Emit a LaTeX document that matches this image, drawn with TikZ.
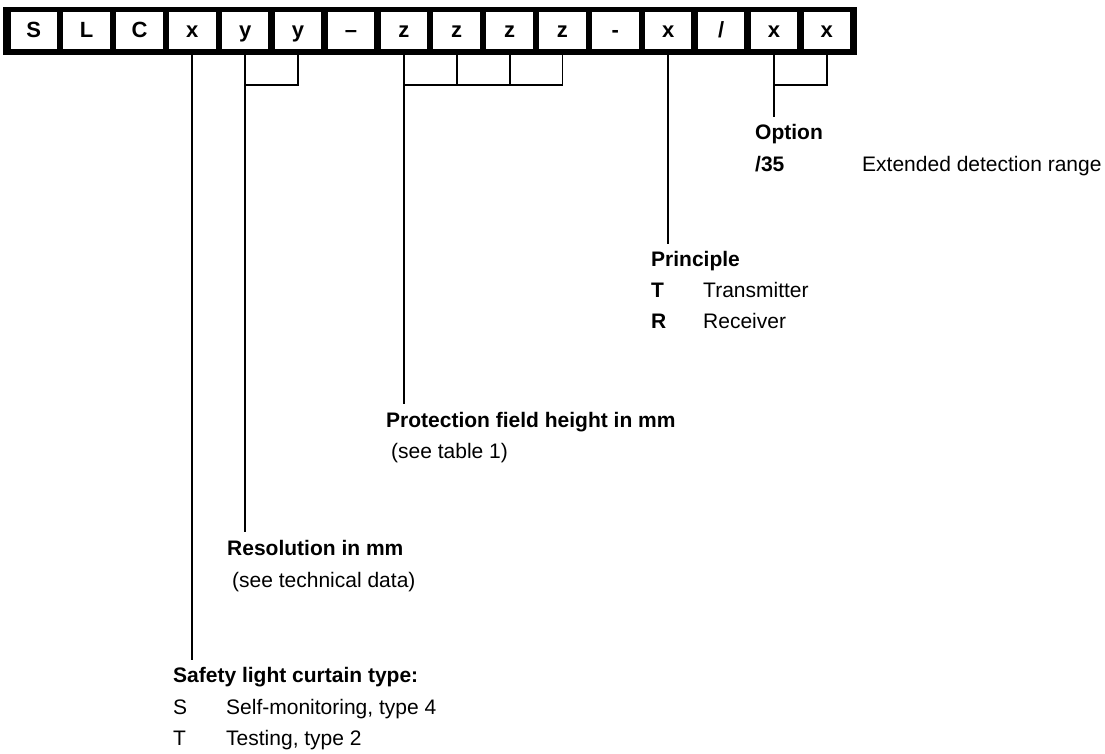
\documentclass[tikz,border=0pt]{standalone}
\usepackage{fontspec}
\setmainfont{Liberation Sans}
\begin{document}
\begin{tikzpicture}[x=1pt,y=-1pt,
  every node/.style={font=\fontsize{21}{25}\selectfont},
  cell/.style={fill=white,minimum width=46.5pt,minimum height=37pt,inner sep=0pt,
    text height=15pt,text depth=1.5pt,font=\fontsize{22}{25}\selectfont\bfseries},
  lbl/.style={anchor=base west,inner sep=0pt},
  blbl/.style={lbl,font=\fontsize{21}{25}\selectfont\bfseries},
  conn/.style={line width=1.9pt}]
\useasboundingbox (0,0) rectangle (1105,753);
\node[fill=black,minimum width=854pt,minimum height=48pt,inner sep=0pt,anchor=north west] (bar) at (3,7) {};
\foreach \t [count=\i from 0] in {S,L,C,x,y,y,–,z,z,z,z,-,x,/,x,x}{
  \node[cell] (c\i) at ({33.75+52.87*\i},30.5) {\t};
}
% labels
\node[blbl] (opt) at (755,139) {Option};
\node[blbl] (o35) at (755,171) {/35};
\node[lbl] (o35t) at (862,171) {Extended detection range};
\node[blbl] (prin) at (651,266) {Principle};
\node[blbl] (pt) at (651,297) {T};
\node[lbl] (ptt) at (703,297) {Transmitter};
\node[blbl] (pr) at (651,328) {R};
\node[lbl] (prt) at (703,328) {Receiver};
\node[blbl] (prot) at (386,427) {Protection field height in mm};
\node[lbl] (prot2) at (391,458) {(see table 1)};
\node[blbl] (res) at (227,555) {Resolution in mm};
\node[lbl] (res2) at (232,587) {(see technical data)};
\node[blbl] (saf) at (173,682) {Safety light curtain type:};
\node[lbl] (sS) at (173,714) {S};
\node[lbl] (sSt) at (226,714) {Self-monitoring, type 4};
\node[lbl] (sT) at (173,745) {T};
\node[lbl] (sTt) at (226,745) {Testing, type 2};
% connector ends
\coordinate (eopt) at (c14 |- 0,117);
\coordinate (eprin) at (c12 |- 0,244);
\coordinate (eprot) at (c7 |- 0,404);
\coordinate (eres) at (c4 |- 0,532);
\coordinate (esaf) at (c3 |- 0,660);
% connectors
\draw[conn] (c3 |- bar.south) -- (esaf);
\draw[conn] (c5 |- bar.south) |- (c4 |- 0,85) -- (eres);
\draw[conn] (c4 |- bar.south) -- (c4 |- 0,85);
\draw[conn] (c10 |- bar.south) |- (c7 |- 0,85) -- (eprot);
\draw[conn] (c7 |- bar.south) -- (c7 |- 0,85);
\draw[conn] (c8 |- bar.south) -- (c8 |- 0,85);
\draw[conn] (c9 |- bar.south) -- (c9 |- 0,85);
\draw[conn] (c12 |- bar.south) -- (eprin);
\draw[conn] (c15 |- bar.south) |- (c14 |- 0,85) -- (eopt);
\draw[conn] (c14 |- bar.south) -- (c14 |- 0,85);
\end{tikzpicture}
\end{document}
